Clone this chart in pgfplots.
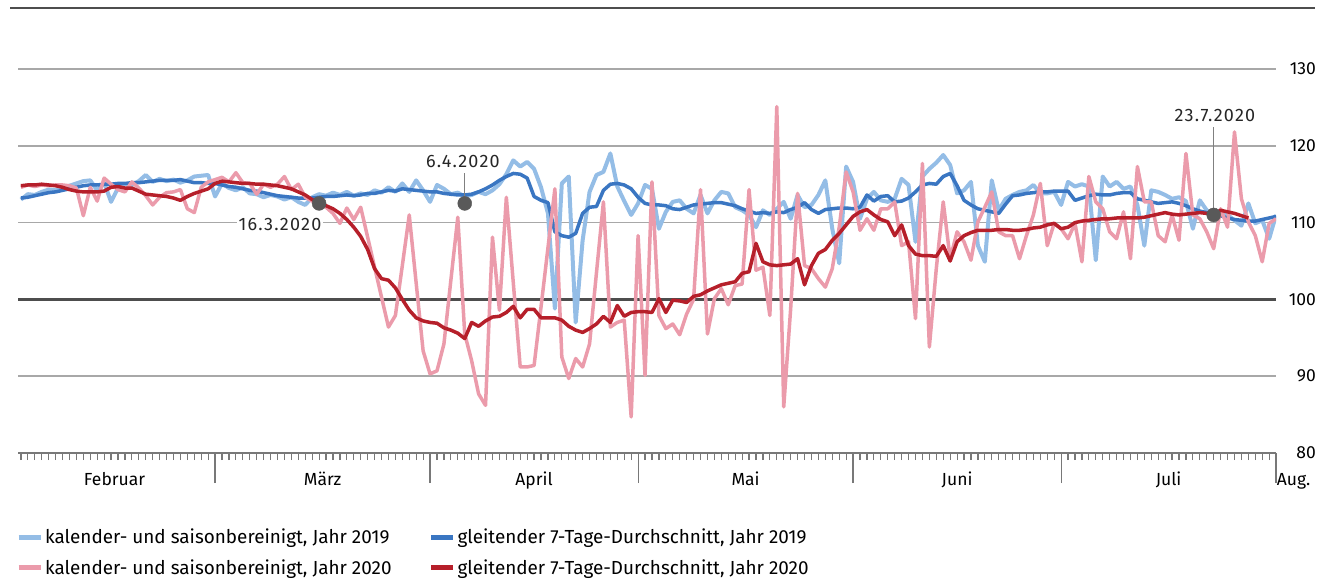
\documentclass[border=0pt]{standalone}
\usepackage{fontspec}
\setmainfont{Fira Sans}
\usepackage{pgfplots}
\pgfplotsset{compat=1.18}
\definecolor{lb}{RGB}{148,189,230}
\definecolor{db}{RGB}{58,118,194}
\definecolor{pk}{RGB}{235,155,171}
\definecolor{rd}{RGB}{182,31,42}
\definecolor{gridc}{RGB}{168,168,168}
\definecolor{darkc}{RGB}{77,77,77}
\definecolor{dotc}{RGB}{89,89,89}
\definecolor{axc}{RGB}{120,120,120}
\newcommand{\fs}{\fontsize{17.5}{21}\selectfont}
\newcommand{\fl}{\fontsize{18.9}{22}\selectfont}
\newcommand{\fd}{\fontsize{18}{21}\selectfont\addfontfeatures{LetterSpace=7}}
\begin{document}
\begin{tikzpicture}[x=1pt,y=1pt]
\useasboundingbox (0,0) rectangle (1326,579);
\draw[line width=1.5pt, darkc] (10,571) -- (1315,571);
\begin{axis}[
  at={(18pt,126pt)}, anchor=south west,
  scale only axis, width=1258.1pt, height=384pt,
  xmin=0.58, xmax=182, ymin=80, ymax=130,
  axis x line*=bottom, axis y line*=right,
  x axis line style={-, draw=axc, line width=2pt},
  y axis line style={draw=none},
  tick align=outside,
  major tick length=0pt, minor tick length=7pt,
  tick style={draw=axc, line width=1.2pt},
  xtick={14.5,44.5,75,105.5,136,166.5},
  xticklabels={Februar,März,April,Mai,Juni,Juli},
  minor xtick={1,...,181},
  extra x ticks={29,60,90,121,151,182},
  extra x tick labels={,,,,,Aug.},
  extra x tick style={major tick length=30pt, xticklabel style={anchor=base west, inner sep=0pt, xshift=0.5pt, yshift=30pt}},
  xticklabel style={anchor=base, yshift=-32pt, font=\fs},
  ytick={80,90,110,120,130},
  extra y ticks={100},
  extra y tick style={major grid style={draw=darkc, line width=2.5pt}},
  ymajorgrids,
  major grid style={draw=gridc, line width=1.7pt},
  y tick style={draw=none},
  yticklabel pos=right,
  yticklabel style={anchor=east, inner sep=0pt, xshift=40pt, font=\fs},
  /pgf/number format/assume math mode=true,
  legend columns=2,
  legend cell align=left,
  legend style={draw=none, fill=none, at={(0,0)}, anchor=north west, xshift=-2pt, yshift=-74pt, font=\fl, inner sep=0pt, row sep=10pt, /tikz/every even column/.append style={column sep=35pt}},
  legend image code/.code={\draw[line width=5pt] (0pt,0pt) -- (22pt,0pt);},
]
\addplot[lb, line width=4pt, line join=round] coordinates {
(1,113.0)(2,113.7)(3,113.6)(4,114.0)(5,114.3)(6,114.2)(7,114.6)(8,114.8)(9,115.1)(10,115.4)
(11,115.5)(12,114.2)(13,115.2)(14,112.7)(15,114.5)(16,115.0)(17,114.9)(18,115.4)(19,116.2)(20,115.3)
(21,115.7)(22,115.4)(23,115.6)(24,115.2)(25,115.5)(26,116.0)(27,116.1)(28,116.2)(29,113.4)(30,115.1)
(31,114.5)(32,114.2)(33,114.6)(34,113.8)(35,113.7)(36,113.3)(37,113.6)(38,113.4)(39,113.0)(40,113.3)
(41,112.7)(42,112.3)(43,113.3)(44,113.7)(45,113.5)(46,113.9)(47,113.6)(48,114.0)(49,113.5)(50,113.8)
(51,113.6)(52,114.2)(53,113.9)(54,114.6)(55,114.0)(56,115.1)(57,114.0)(58,115.5)(59,114.2)(60,112.7)
(61,114.9)(62,114.4)(63,113.7)(64,113.9)(65,113.4)(66,113.6)(67,114.0)(68,113.7)(69,114.2)(70,115.0)
(71,116.3)(72,118.1)(73,117.3)(74,117.9)(75,117.0)(76,114.6)(77,111.2)(78,98.8)(79,115.1)(80,116.0)
(81,97.0)(82,107.7)(83,114.0)(84,116.2)(85,116.6)(86,119.0)(87,114.7)(88,112.8)(89,111.0)(90,112.5)
(91,114.9)(92,114.4)(93,109.2)(94,111.4)(95,112.7)(96,112.9)(97,111.8)(98,111.2)(99,113.6)(100,111.2)
(101,112.9)(102,114.0)(103,113.8)(104,112.0)(105,111.6)(106,111.0)(107,109.4)(108,111.6)(109,111.0)(110,111.8)
(111,112.7)(112,110.5)(113,113.6)(114,112.0)(115,112.3)(116,113.6)(117,115.5)(118,109.2)(119,104.7)(120,117.3)
(121,115.3)(122,110.5)(123,113.1)(124,114.0)(125,112.9)(126,112.7)(127,113.1)(128,115.7)(129,114.9)(130,107.5)
(131,116.0)(132,117.0)(133,117.8)(134,118.8)(135,117.5)(136,113.8)(137,114.2)(138,115.3)(139,107.0)(140,104.9)
(141,115.5)(142,111.6)(143,113.1)(144,113.6)(145,114.0)(146,114.2)(147,114.9)(148,113.8)(149,113.8)(150,114.0)
(151,112.3)(152,115.3)(153,114.7)(154,115.0)(155,114.7)(156,105.1)(157,116.0)(158,114.7)(159,115.3)(160,114.4)
(161,114.7)(162,112.3)(163,107.0)(164,114.2)(165,114.0)(166,113.6)(167,113.1)(168,113.3)(169,112.8)(170,109.2)
(171,112.9)(172,111.6)(173,111.2)(174,111.4)(175,111.0)(176,110.3)(177,109.6)(178,112.5)(179,109.9)(180,110.3)
(181,107.9)(182,111.0)};
\addlegendentry{kalender- und saisonbereinigt, Jahr 2019}
\addplot[db, line width=3.5pt, line join=round] coordinates {
(1,113.2)(2,113.3)(3,113.5)(4,113.7)(5,113.9)(6,114.0)(7,114.2)(8,114.4)(9,114.6)(10,114.8)
(11,114.9)(12,114.9)(13,115.0)(14,115.0)(15,115.1)(16,115.1)(17,115.2)(18,115.2)(19,115.3)(20,115.4)
(21,115.5)(22,115.5)(23,115.5)(24,115.6)(25,115.4)(26,115.2)(27,115.2)(28,115.1)(29,115.1)(30,114.9)
(31,114.7)(32,114.6)(33,114.4)(34,114.2)(35,114.1)(36,113.9)(37,113.7)(38,113.5)(39,113.4)(40,113.3)
(41,113.2)(42,113.2)(43,113.2)(44,113.3)(45,113.4)(46,113.4)(47,113.5)(48,113.6)(49,113.5)(50,113.6)
(51,113.8)(52,113.8)(53,114.0)(54,114.2)(55,114.1)(56,114.4)(57,114.3)(58,114.2)(59,114.1)(60,114.0)
(61,114.0)(62,113.8)(63,113.7)(64,113.6)(65,113.6)(66,113.7)(67,114.0)(68,114.4)(69,114.9)(70,115.5)
(71,116.0)(72,116.4)(73,116.3)(74,115.8)(75,113.4)(76,112.9)(77,112.6)(78,108.8)(79,108.3)(80,108.1)
(81,108.6)(82,111.2)(83,112.0)(84,112.1)(85,114.2)(86,115.0)(87,115.1)(88,114.9)(89,114.4)(90,113.3)
(91,112.5)(92,112.3)(93,112.3)(94,112.2)(95,111.8)(96,111.7)(97,112.0)(98,112.3)(99,112.4)(100,112.5)
(101,112.6)(102,112.6)(103,112.4)(104,112.2)(105,111.8)(106,111.5)(107,111.2)(108,111.3)(109,111.2)(110,111.4)
(111,111.3)(112,111.7)(113,112.0)(114,112.6)(115,111.7)(116,111.2)(117,111.7)(118,111.8)(119,111.9)(120,111.9)
(121,111.8)(122,112.0)(123,113.6)(124,112.8)(125,113.4)(126,113.5)(127,112.7)(128,112.8)(129,113.2)(130,114.0)
(131,114.9)(132,115.1)(133,115.0)(134,116.0)(135,116.4)(136,114.8)(137,112.9)(138,112.3)(139,111.8)(140,111.6)
(141,111.4)(142,111.2)(143,112.4)(144,113.5)(145,113.6)(146,113.8)(147,113.9)(148,114.0)(149,114.0)(150,114.1)
(151,114.1)(152,114.1)(153,112.9)(154,113.2)(155,113.5)(156,113.7)(157,113.6)(158,113.6)(159,113.8)(160,113.9)
(161,113.9)(162,113.1)(163,112.9)(164,112.7)(165,112.5)(166,112.6)(167,112.7)(168,112.5)(169,112.2)(170,111.8)
(171,111.5)(172,111.3)(173,111.1)(174,110.9)(175,110.6)(176,110.4)(177,110.3)(178,110.2)(179,110.2)(180,110.4)
(181,110.6)(182,110.8)};
\addlegendentry{gleitender 7-Tage-Durchschnitt, Jahr 2019}
\addplot[pk, line width=3.5pt, line join=round] coordinates {
(1,114.6)(2,114.9)(3,114.7)(4,114.9)(5,114.8)(6,114.9)(7,114.9)(8,114.8)(9,114.5)(10,110.9)
(11,114.6)(12,112.8)(13,115.8)(14,115.0)(15,114.3)(16,114.0)(17,115.3)(18,114.5)(19,113.5)(20,112.3)
(21,113.3)(22,113.9)(23,114.0)(24,114.3)(25,111.8)(26,111.3)(27,114.6)(28,115.3)(29,115.6)(30,115.9)
(31,115.3)(32,116.5)(33,115.2)(34,115.1)(35,113.7)(36,115.0)(37,114.6)(38,115.0)(39,116.0)(40,114.3)
(41,115.0)(42,113.3)(43,112.8)(44,112.4)(45,112.0)(46,111.2)(47,109.9)(48,111.9)(49,110.4)(50,112.0)
(51,108.1)(52,104.2)(53,100.3)(54,96.4)(55,97.9)(56,104.4)(57,111.0)(58,102.1)(59,93.3)(60,90.3)
(61,90.7)(62,94.2)(63,102.5)(64,110.7)(65,95.5)(66,92.0)(67,87.7)(68,86.2)(69,108.1)(70,98.6)
(71,113.3)(72,102.2)(73,91.2)(74,91.2)(75,91.4)(76,99.0)(77,106.7)(78,114.4)(79,92.5)(80,89.7)
(81,92.3)(82,91.2)(83,94.2)(84,103.5)(85,112.7)(86,96.4)(87,97.0)(88,97.3)(89,84.7)(90,108.3)
(91,90.1)(92,115.3)(93,97.9)(94,96.2)(95,96.8)(96,95.4)(97,98.1)(98,100.0)(99,114.3)(100,95.5)
(101,100.1)(102,101.4)(103,99.3)(104,101.8)(105,102.0)(106,114.3)(107,103.8)(108,104.2)(109,97.9)(110,125.1)
(111,86.0)(112,98.8)(113,113.8)(114,104.4)(115,104.0)(116,102.7)(117,101.6)(118,104.0)(119,109.4)(120,116.6)
(121,114.0)(122,109.0)(123,110.5)(124,109.0)(125,111.8)(126,111.8)(127,112.7)(128,107.0)(129,107.5)(130,97.5)
(131,117.7)(132,93.8)(133,104.0)(134,112.7)(135,105.3)(136,108.8)(137,107.5)(138,105.1)(139,110.1)(140,112.0)
(141,114.0)(142,108.8)(143,108.3)(144,108.3)(145,105.3)(146,108.3)(147,111.0)(148,115.1)(149,107.0)(150,109.9)
(151,109.2)(152,107.9)(153,109.9)(154,104.9)(155,116.0)(156,112.7)(157,111.8)(158,108.8)(159,107.9)(160,111.4)
(161,105.3)(162,117.3)(163,112.7)(164,112.7)(165,108.3)(166,107.5)(167,111.0)(168,107.7)(169,119.0)(170,111.0)
(171,110.5)(172,108.8)(173,106.6)(174,111.8)(175,109.4)(176,121.8)(177,113.1)(178,110.1)(179,108.3)(180,104.9)
(181,109.9)(182,110.5)};
\addlegendentry{kalender- und saisonbereinigt, Jahr 2020}
\addplot[rd, line width=3.5pt, line join=round] coordinates {
(1,114.8)(2,114.9)(3,114.9)(4,115.0)(5,114.9)(6,114.8)(7,114.6)(8,114.3)(9,114.1)(10,114.0)
(11,114.0)(12,114.0)(13,114.1)(14,114.6)(15,114.7)(16,114.5)(17,114.5)(18,114.1)(19,113.7)(20,113.6)
(21,113.5)(22,113.4)(23,113.2)(24,112.9)(25,113.4)(26,113.8)(27,114.1)(28,114.4)(29,115.1)(30,115.4)
(31,115.3)(32,115.2)(33,115.1)(34,115.1)(35,115.0)(36,115.0)(37,114.9)(38,114.8)(39,114.6)(40,114.4)
(41,114.0)(42,113.6)(43,113.0)(44,112.5)(45,112.2)(46,111.8)(47,111.2)(48,110.4)(49,109.4)(50,108.2)
(51,106.5)(52,104.0)(53,102.7)(54,102.5)(55,101.5)(56,100.0)(57,98.6)(58,97.6)(59,97.2)(60,97.0)
(61,96.9)(62,96.3)(63,96.0)(64,95.6)(65,94.9)(66,97.0)(67,96.5)(68,97.2)(69,97.7)(70,97.8)
(71,98.3)(72,99.1)(73,97.6)(74,98.7)(75,98.7)(76,97.6)(77,97.6)(78,97.6)(79,97.3)(80,96.5)
(81,96.0)(82,95.7)(83,96.2)(84,96.8)(85,97.8)(86,97.0)(87,99.2)(88,97.8)(89,98.3)(90,98.4)
(91,98.4)(92,98.3)(93,100.1)(94,98.3)(95,99.9)(96,99.8)(97,99.6)(98,100.4)(99,100.6)(100,101.1)
(101,101.5)(102,101.9)(103,102.1)(104,102.3)(105,103.4)(106,103.6)(107,107.3)(108,104.9)(109,104.5)(110,104.4)
(111,104.5)(112,104.6)(113,105.3)(114,101.9)(115,104.4)(116,106.0)(117,106.5)(118,107.7)(119,108.6)(120,109.7)
(121,110.8)(122,111.4)(123,111.7)(124,111.0)(125,110.4)(126,110.1)(127,108.3)(128,109.7)(129,107.0)(130,105.9)
(131,105.7)(132,105.7)(133,105.6)(134,107.0)(135,105.0)(136,107.5)(137,108.3)(138,108.7)(139,109.0)(140,109.0)
(141,109.0)(142,109.1)(143,109.1)(144,109.0)(145,109.0)(146,109.1)(147,109.3)(148,109.4)(149,109.7)(150,109.9)
(151,109.2)(152,109.4)(153,110.0)(154,110.2)(155,110.3)(156,110.4)(157,110.5)(158,110.5)(159,110.6)(160,110.6)
(161,110.6)(162,110.6)(163,110.7)(164,110.9)(165,111.1)(166,111.3)(167,111.1)(168,111.0)(169,111.1)(170,111.2)
(171,111.3)(172,111.2)(173,111.1)(174,111.6)(175,111.4)(176,111.2)(177,110.9)(178,110.6)};
\addlegendentry{gleitender 7-Tage-Durchschnitt, Jahr 2020}
\addplot[draw=gray, line width=1.2pt, forget plot] coordinates {(65,116.4) (65,113.3)};
\addplot[draw=gray, line width=1.2pt, forget plot] coordinates {(173,122.4) (173,111.8)};
\addplot[only marks, mark=*, mark size=7pt, dotc, forget plot] coordinates {(44,112.5) (65,112.5) (173,111.0)};
\node[fill=white, inner sep=1.5pt, font=\fd, text=black!85] at (axis cs:38.36,109.77) {16.3.2020};
\node[inner sep=1.5pt, font=\fd, text=black!85] at (axis cs:64.74,117.97) {6.4.2020};
\node[inner sep=1.5pt, font=\fd, text=black!85] at (axis cs:173.18,123.96) {23.7.2020};
\end{axis}
\end{tikzpicture}
\end{document}
